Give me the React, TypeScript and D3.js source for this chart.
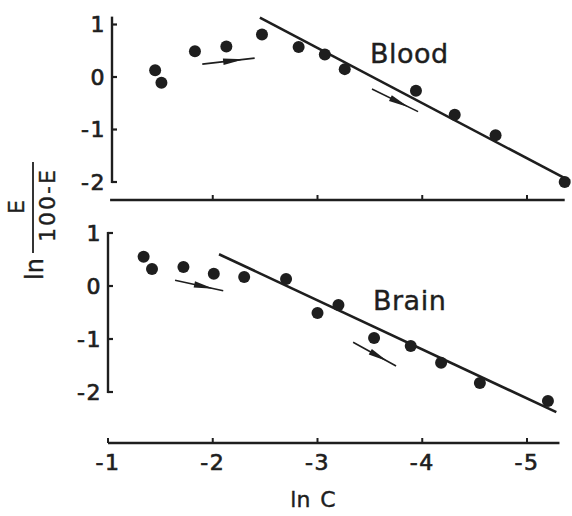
import React from 'react';
import * as d3 from 'd3';

// ln C vs ln(E/(100-E))
const bloodLnC = [-1.45, -1.51, -1.83, -2.13, -2.47, -2.82, -3.07, -3.26, -3.94, -4.31, -4.70, -5.36];
const bloodY = [0.13, -0.11, 0.49, 0.58, 0.81, 0.57, 0.43, 0.15, -0.26, -0.72, -1.11, -2.0];
const bloodFit = [[-2.45, 1.13], [-5.41, -1.98]];
const bloodArrows = [
    [[-1.9, 0.245], [-2.4, 0.36]],
    [[-3.52, -0.23], [-3.96, -0.66]],
];

const brainLnC = [-1.34, -1.42, -1.72, -2.01, -2.3, -2.7, -3.0, -3.2, -3.54, -3.89, -4.18, -4.55, -5.2];
const brainY = [0.55, 0.32, 0.36, 0.23, 0.17, 0.13, -0.51, -0.36, -0.98, -1.13, -1.45, -1.83, -2.17];
const brainFit = [[-2.06, 0.6], [-5.28, -2.38]];
const brainArrows = [
    [[-1.64, 0.11], [-2.1, -0.09]],
    [[-3.34, -1.06], [-3.75, -1.51]],
];

const yTicks = [1, 0, -1, -2];
const xTicksTop = [-2, -3, -4, -5];
const xTicksBottom = [-1, -2, -3, -4, -5];

const ink = '#1e1e1e';
const font = 'DejaVu Sans, sans-serif';

const x = d3.scaleLinear().domain([-1, -5]).range([108, 527]);
const yTop = d3.scaleLinear().domain([0, -2]).range([77, 182]);
const yBot = d3.scaleLinear().domain([0, -2]).range([286, 392]);

const label = (v: number) => (v < 0 ? '-' + Math.abs(v) : String(v));

// text with a touch of stroke so it reads as heavy as the scan
const heavy = { fontFamily: font, fill: ink, stroke: ink, strokeWidth: 0.7 };

const Arrow = ({ a, b }: { a: number[]; b: number[] }) => {
    const dx = b[0] - a[0];
    const dy = b[1] - a[1];
    const len = Math.hypot(dx, dy);
    const ux = dx / len;
    const uy = dy / len;
    const bx = a[0] + dx * 0.4;
    const by = a[1] + dy * 0.4;
    const tx = a[0] + dx * 0.8;
    const ty = a[1] + dy * 0.8;
    const w = 3.2;
    const head = `M${bx - uy * w},${by + ux * w} L${tx},${ty} L${bx + uy * w},${by - ux * w} Z`;
    return (
        <g>
            <line x1={a[0]} y1={a[1]} x2={b[0]} y2={b[1]} stroke={ink} strokeWidth={1.6} />
            <path d={head} fill={ink} />
        </g>
    );
};

const Panel = ({ xs, ys, fit, arrows, y, axisX, yRange, hAxisY, hRange, xTicks, name, nameX, nameY }: any) => {
    const line = d3.line<number[]>().x((d) => x(d[0])).y((d) => y(d[1]));
    return (
        <g>
            {/* vertical axis */}
            <line x1={axisX} x2={axisX} y1={y(yRange[0])} y2={y(yRange[1])} stroke={ink} strokeWidth={2.4} />
            {yTicks.map((t) => (
                <g key={t}>
                    <line x1={axisX} x2={axisX + 5} y1={y(t)} y2={y(t)} stroke={ink} strokeWidth={2.2} />
                    <text x={axisX - 6} y={y(t)} textAnchor="end" dominantBaseline="central"
                        fontSize={22} letterSpacing={1.5} {...heavy}>{label(t)}</text>
                </g>
            ))}
            {/* horizontal axis */}
            <line x1={x(hRange[0])} x2={x(hRange[1])} y1={hAxisY} y2={hAxisY} stroke={ink} strokeWidth={2.6} />
            {xTicks.map((t: number) => (
                <line key={t} x1={x(t)} x2={x(t)} y1={hAxisY} y2={hAxisY - 5} stroke={ink} strokeWidth={2} />
            ))}
            <path d={line(fit) || ''} fill="none" stroke={ink} strokeWidth={2.6} />
            {xs.map((v: number, i: number) => (
                <circle key={i} cx={x(v)} cy={y(ys[i])} r={6} fill={ink} />
            ))}
            {arrows.map((ar: number[][], i: number) => (
                <Arrow key={i} a={[x(ar[0][0]), y(ar[0][1])]} b={[x(ar[1][0]), y(ar[1][1])]} />
            ))}
            <text x={nameX} y={nameY} fontFamily={font} fontSize={27} fill={ink} stroke={ink} strokeWidth={0.4}
                letterSpacing={0.5}>{name}</text>
        </g>
    );
};

const App = () => {
    return (
        <svg width={572} height={516} style={{ position: 'absolute', left: 0, top: 0, background: '#fff' }}>
            <Panel xs={bloodLnC} ys={bloodY} fit={bloodFit} arrows={bloodArrows} y={yTop}
                axisX={112} yRange={[1.15, -2.02]} hAxisY={200} hRange={[-1.02, -5.36]}
                xTicks={xTicksTop} name="Blood" nameX={370} nameY={63} />
            <Panel xs={brainLnC} ys={brainY} fit={brainFit} arrows={brainArrows} y={yBot}
                axisX={108} yRange={[1.02, -2.02]} hAxisY={443} hRange={[-1.0, -5.31]}
                xTicks={xTicksBottom} name="Brain" nameX={373} nameY={310} />
            {xTicksBottom.map((t) => (
                <text key={t} x={x(t)} y={462} textAnchor="middle" dominantBaseline="central"
                    fontSize={22} letterSpacing={1.5} {...heavy}>{label(t)}</text>
            ))}
            <text x={313} y={507} textAnchor="middle" fontSize={22} {...heavy} strokeWidth={0.4}>
                ln<tspan dx={10}>C</tspan>
            </text>
            {/* y label: ln E/(100-E), rotated */}
            <text transform="translate(35,269) rotate(-90)" textAnchor="middle" dominantBaseline="central"
                fontSize={24} {...heavy} strokeWidth={0.4}>ln</text>
            <text transform="translate(16,207) rotate(-90)" textAnchor="middle" dominantBaseline="central"
                fontSize={22} {...heavy} strokeWidth={0.4}>E</text>
            <line x1={33} x2={33} y1={162} y2={253} stroke={ink} strokeWidth={1.8} />
            <text transform="translate(47,205) rotate(-90)" textAnchor="middle" dominantBaseline="central"
                fontSize={22} letterSpacing={2} {...heavy} strokeWidth={0.4}>100-E</text>
        </svg>
    );
};

export default App;
